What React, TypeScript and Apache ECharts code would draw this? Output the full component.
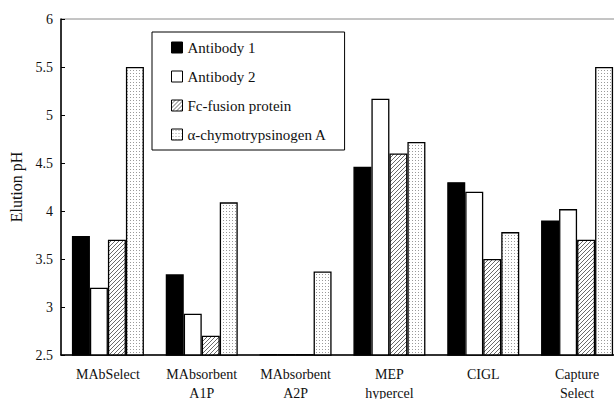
import React, { useEffect, useRef } from "react";
import * as echarts from "echarts";

const categories = [
  "MAbSelect",
  "MAbsorbent\nA1P",
  "MAbsorbent\nA2P",
  "MEP\nhypercel",
  "CIGL",
  "Capture\nSelect",
];
const seriesNames = ["Antibody 1", "Antibody 2", "Fc-fusion protein", "α-chymotrypsinogen A"];
const antibody1 = [3.74, 3.34, 2.51, 4.46, 4.3, 3.9];
const antibody2 = [3.2, 2.93, 2.51, 5.17, 4.2, 4.02];
const fcFusion = [3.7, 2.7, 2.51, 4.6, 3.5, 3.7];
const chymo = [5.5, 4.09, 3.37, 4.72, 3.78, 5.5];
const yTicks = { min: 2.5, max: 6, interval: 0.5 };

function hatchCanvas() {
  const c = document.createElement("canvas");
  c.width = 4;
  c.height = 4;
  const g = c.getContext("2d")!;
  g.fillStyle = "#ffffff";
  g.fillRect(0, 0, 4, 4);
  g.strokeStyle = "#6a6a6a";
  g.lineWidth = 1;
  g.beginPath();
  g.moveTo(0, 4);
  g.lineTo(4, 0);
  g.moveTo(-1, 1);
  g.lineTo(1, -1);
  g.moveTo(3, 5);
  g.lineTo(5, 3);
  g.stroke();
  return c;
}

function dotCanvas() {
  const c = document.createElement("canvas");
  c.width = 3;
  c.height = 3;
  const g = c.getContext("2d")!;
  g.fillStyle = "#ffffff";
  g.fillRect(0, 0, 3, 3);
  g.fillStyle = "#9a9a9a";
  g.fillRect(1, 1, 1, 1);
  return c;
}

export default function App() {
  const ref = useRef<HTMLDivElement>(null);
  useEffect(() => {
    const chart = echarts.init(ref.current!, null, { renderer: "svg" });
    const font = "Liberation Serif";
    const fills: any[] = [
      "#000000",
      "#ffffff",
      { image: hatchCanvas(), repeat: "repeat" },
      { image: dotCanvas(), repeat: "repeat" },
    ];
    const datas = [antibody1, antibody2, fcFusion, chymo];
    chart.setOption({
      animation: false,
      backgroundColor: "#ffffff",
      textStyle: { fontFamily: font },
      grid: {
        left: 61,
        top: 19,
        width: 563,
        height: 336,
        show: true,
        borderColor: "#8a8a8a",
        borderWidth: 1,
        containLabel: false,
        outerBoundsMode: "none",
      },
      legend: {
        orient: "vertical",
        left: 152,
        top: 32,
        icon: "rect",
        itemWidth: 11,
        itemHeight: 11,
        itemGap: 14,
        padding: [8, 18, 8, 19],
        borderColor: "#000000",
        borderWidth: 1,
        backgroundColor: "#ffffff",
        textStyle: { fontFamily: font, fontSize: 15, color: "#111" },
        data: seriesNames,
        itemStyle: { borderColor: "#000", borderWidth: 1 },
      },
      xAxis: {
        type: "category",
        data: categories,
        axisLine: { lineStyle: { color: "#000", width: 1.5 } },
        axisTick: { inside: true, length: 5, lineStyle: { color: "#000" } },
        axisLabel: {
          fontFamily: font,
          fontSize: 14,
          color: "#111",
          lineHeight: 19,
          margin: 10,
          interval: 0,
        },
      },
      yAxis: {
        type: "value",
        min: yTicks.min,
        max: yTicks.max,
        interval: yTicks.interval,
        name: "Elution pH",
        nameLocation: "middle",
        nameRotate: 90,
        nameGap: 32,
        nameTextStyle: { fontFamily: font, fontSize: 16, color: "#111" },
        splitLine: { show: false },
        axisLine: { show: true, lineStyle: { color: "#000", width: 1.5 } },
        axisTick: { show: true, inside: true, length: 4, lineStyle: { color: "#000" } },
        axisLabel: { fontFamily: font, fontSize: 14, color: "#111", margin: 8 },
      },
      series: datas.map((d, i) => ({
        name: seriesNames[i],
        type: "bar",
        data: d,
        barWidth: 18,
        barGap: "0%",
        itemStyle: { color: fills[i], borderColor: "#000", borderWidth: 1.3 },
      })),
    });
    return () => chart.dispose();
  }, []);
  return (
    <div
      ref={ref}
      style={{ position: "fixed", left: 0, top: 0, width: 614, height: 399 }}
    />
  );
}
